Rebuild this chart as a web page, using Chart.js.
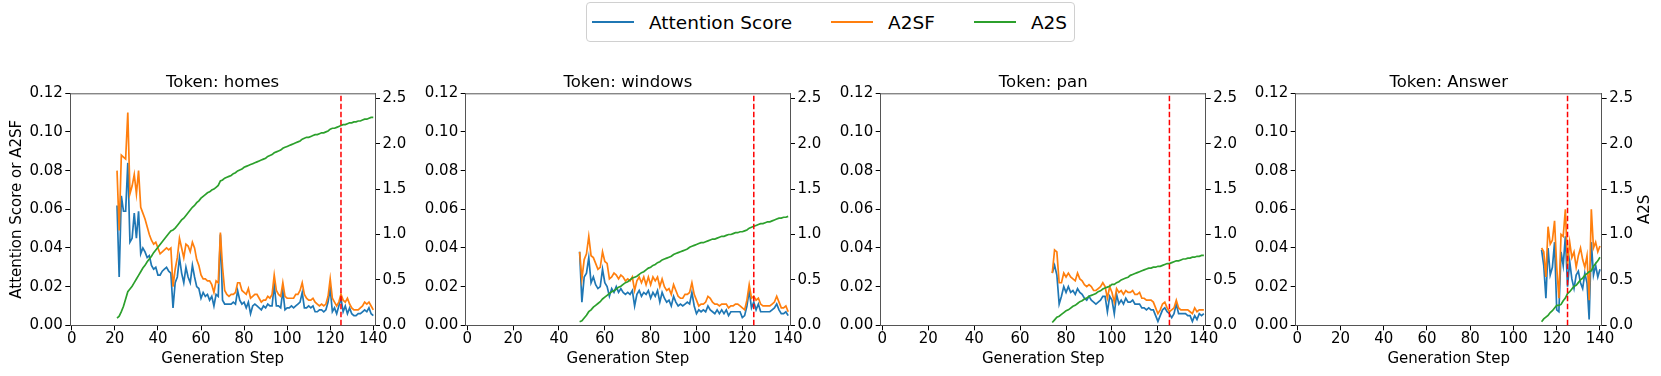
<!DOCTYPE html>
<html>
<head>
<meta charset="utf-8">
<script src="https://cdn.jsdelivr.net/npm/chart.js@4.4.0/dist/chart.umd.min.js"></script>
<style>
  body { margin: 0; background: #fff; width: 1661px; height: 376px; overflow: hidden; position: relative; font-family: "DejaVu Sans", sans-serif; }
  canvas { position: absolute; top: 0; }
  #legend { position: absolute; left: 586px; top: 2px; width: 489px; height: 40px; box-sizing: border-box;
    border: 1px solid #d0d0d0; border-radius: 4px; display: flex; align-items: center; padding-left: 5px;
    font-size: 18.5px; color: #000; z-index: 2; background: #fff; white-space: nowrap; }
  .item { display: flex; align-items: center; margin-right: 39px; flex-shrink: 0; }
  .swatch { width: 42px; height: 2px; margin-right: 15px; flex-shrink: 0; }
</style>
</head>
<body>
<div id="legend"></div>
<canvas id="c0" width="420" height="376" style="left:0px"></canvas>
<canvas id="c1" width="415" height="376" style="left:420px"></canvas>
<canvas id="c2" width="415" height="376" style="left:835px"></canvas>
<canvas id="c3" width="411" height="376" style="left:1250px"></canvas>
<script>
// series names and colours
var seriesNames = ['Attention Score', 'A2SF', 'A2S'];
var seriesColors = ['#1f77b4', '#ff7f0e', '#2ca02c'];

var xTicks = [0, 20, 40, 60, 80, 100, 120, 140];
var leftTicks = [0, 0.02, 0.04, 0.06, 0.08, 0.10, 0.12];
var rightTicks = [0, 0.5, 1.0, 1.5, 2.0, 2.5];
var markStep = 125;

// Token: homes (steps 21..140)
var homesStart = 21;
var homesAttn = [0.062,0.025,0.067,0.059,0.059,0.084,0.043,0.045,0.058,0.045,0.059,0.037,0.040,0.038,0.035,0.036,0.031,0.029,0.030,0.026,
  0.026,0.028,0.029,0.030,0.028,0.027,0.009,0.022,0.025,0.035,0.027,0.022,0.030,0.025,0.022,0.031,0.025,0.020,0.019,0.014,
  0.017,0.015,0.016,0.013,0.015,0.010,0.016,0.015,0.047,0.013,0.011,0.011,0.011,0.011,0.012,0.011,0.018,0.013,0.011,0.012,
  0.009,0.012,0.006,0.010,0.011,0.010,0.009,0.008,0.010,0.009,0.011,0.010,0.010,0.021,0.010,0.010,0.009,0.018,0.008,0.009,
  0.009,0.010,0.009,0.010,0.011,0.012,0.017,0.009,0.009,0.010,0.009,0.010,0.007,0.007,0.008,0.008,0.007,0.008,0.012,0.019,
  0.007,0.009,0.006,0.010,0.014,0.007,0.010,0.006,0.009,0.006,0.005,0.005,0.006,0.006,0.007,0.008,0.007,0.009,0.006,0.005];
var homesA2SF = [0.080,0.049,0.088,0.087,0.086,0.110,0.068,0.072,0.078,0.068,0.080,0.061,0.058,0.055,0.051,0.047,0.044,0.042,0.043,0.040,
  0.037,0.038,0.039,0.040,0.039,0.040,0.020,0.029,0.035,0.045,0.040,0.035,0.042,0.041,0.038,0.043,0.040,0.034,0.031,0.026,
  0.024,0.024,0.023,0.023,0.021,0.017,0.023,0.022,0.048,0.030,0.018,0.016,0.015,0.016,0.016,0.017,0.022,0.022,0.018,0.017,
  0.016,0.019,0.014,0.015,0.016,0.016,0.014,0.012,0.013,0.013,0.015,0.014,0.016,0.026,0.018,0.016,0.015,0.022,0.015,0.014,
  0.014,0.014,0.014,0.016,0.016,0.018,0.022,0.016,0.014,0.013,0.013,0.014,0.012,0.011,0.010,0.011,0.010,0.011,0.015,0.024,
  0.014,0.012,0.010,0.012,0.016,0.013,0.012,0.014,0.011,0.009,0.008,0.008,0.008,0.009,0.010,0.012,0.011,0.012,0.010,0.008];
var homesA2S = [0.08,0.10,0.15,0.21,0.29,0.37,0.40,0.43,0.47,0.51,0.55,0.59,0.63,0.66,0.70,0.73,0.76,0.80,0.83,0.86,
  0.89,0.92,0.95,0.98,1.01,1.04,1.05,1.07,1.10,1.13,1.16,1.18,1.21,1.24,1.27,1.30,1.32,1.35,1.37,1.40,
  1.42,1.44,1.46,1.47,1.49,1.50,1.52,1.54,1.59,1.60,1.62,1.63,1.64,1.65,1.67,1.68,1.70,1.71,1.72,1.74,
  1.75,1.76,1.77,1.78,1.79,1.80,1.81,1.82,1.83,1.84,1.86,1.87,1.88,1.90,1.91,1.92,1.93,1.95,1.96,1.97,
  1.98,1.99,2.00,2.01,2.02,2.03,2.05,2.06,2.07,2.07,2.08,2.09,2.10,2.10,2.11,2.12,2.12,2.13,2.14,2.16,
  2.17,2.17,2.18,2.19,2.20,2.21,2.21,2.22,2.23,2.23,2.24,2.24,2.25,2.25,2.26,2.27,2.27,2.28,2.29,2.29];

// Token: windows (steps 49..140)
var windowsStart = 49;
var windowsAttn = [0.038,0.012,0.025,0.027,0.035,0.022,0.025,0.021,0.019,0.020,0.029,0.022,0.020,0.015,0.019,0.017,0.020,0.017,0.019,0.017,
  0.016,0.017,0.016,0.018,0.010,0.016,0.018,0.015,0.017,0.016,0.018,0.014,0.017,0.015,0.018,0.012,0.017,0.014,0.012,0.013,
  0.010,0.015,0.012,0.010,0.011,0.010,0.011,0.012,0.011,0.017,0.010,0.006,0.008,0.007,0.008,0.007,0.010,0.008,0.007,0.006,
  0.008,0.006,0.008,0.006,0.008,0.005,0.007,0.007,0.007,0.007,0.007,0.004,0.005,0.010,0.018,0.009,0.012,0.008,0.011,0.007,
  0.007,0.007,0.007,0.007,0.008,0.009,0.011,0.008,0.006,0.006,0.007,0.005];
var windowsA2SF = [0.038,0.024,0.034,0.037,0.046,0.036,0.035,0.032,0.029,0.030,0.038,0.033,0.032,0.024,0.025,0.027,0.026,0.024,0.026,0.025,
  0.023,0.024,0.023,0.025,0.018,0.023,0.025,0.022,0.025,0.021,0.025,0.021,0.025,0.023,0.025,0.020,0.024,0.020,0.018,0.019,
  0.016,0.021,0.018,0.015,0.014,0.014,0.016,0.016,0.017,0.022,0.016,0.013,0.010,0.011,0.011,0.012,0.015,0.014,0.012,0.011,
  0.011,0.010,0.011,0.011,0.011,0.009,0.010,0.010,0.011,0.011,0.010,0.009,0.008,0.013,0.021,0.014,0.015,0.013,0.014,0.011,
  0.010,0.010,0.010,0.010,0.011,0.012,0.015,0.012,0.009,0.009,0.010,0.007];
var windowsA2S = [0.04,0.05,0.08,0.11,0.15,0.17,0.20,0.22,0.24,0.26,0.29,0.31,0.33,0.35,0.37,0.38,0.40,0.42,0.43,0.45,
  0.47,0.48,0.50,0.52,0.53,0.54,0.56,0.58,0.59,0.61,0.63,0.64,0.66,0.67,0.69,0.70,0.72,0.73,0.74,0.75,
  0.76,0.78,0.79,0.80,0.81,0.82,0.83,0.84,0.86,0.87,0.88,0.89,0.90,0.91,0.91,0.92,0.93,0.94,0.95,0.95,
  0.96,0.97,0.98,0.98,0.99,1.00,1.00,1.01,1.02,1.02,1.03,1.03,1.04,1.05,1.07,1.08,1.09,1.10,1.11,1.12,
  1.12,1.13,1.14,1.14,1.15,1.16,1.17,1.18,1.18,1.19,1.19,1.20];

// Token: pan (steps 74..140)
var panStart = 74;
var panAttn = [0.027,0.031,0.026,0.011,0.015,0.020,0.017,0.020,0.017,0.018,0.016,0.019,0.017,0.016,0.014,0.013,0.015,0.013,0.012,0.011,
  0.012,0.013,0.015,0.015,0.007,0.015,0.013,0.006,0.016,0.011,0.013,0.011,0.014,0.012,0.012,0.013,0.011,0.011,0.011,0.009,
  0.009,0.008,0.009,0.008,0.008,0.005,0.002,0.005,0.008,0.009,0.007,0.006,0.004,0.006,0.011,0.006,0.006,0.006,0.006,0.005,
  0.005,0.002,0.005,0.003,0.006,0.005,0.006];
var panA2SF = [0.027,0.039,0.038,0.022,0.022,0.027,0.025,0.027,0.025,0.024,0.023,0.027,0.024,0.023,0.021,0.020,0.021,0.020,0.018,0.018,
  0.019,0.020,0.022,0.020,0.014,0.020,0.017,0.012,0.019,0.017,0.018,0.016,0.018,0.017,0.017,0.018,0.016,0.016,0.017,0.014,
  0.014,0.013,0.013,0.013,0.012,0.009,0.006,0.008,0.011,0.012,0.009,0.007,0.008,0.009,0.013,0.009,0.008,0.008,0.008,0.008,
  0.007,0.006,0.009,0.007,0.008,0.008,0.008];
var panA2S = [0.03,0.06,0.09,0.10,0.12,0.14,0.16,0.17,0.19,0.21,0.22,0.24,0.26,0.27,0.29,0.30,0.32,0.33,0.34,0.35,
  0.37,0.38,0.40,0.41,0.42,0.43,0.45,0.45,0.47,0.48,0.50,0.51,0.52,0.53,0.55,0.56,0.57,0.58,0.59,0.60,
  0.61,0.62,0.63,0.63,0.64,0.64,0.65,0.65,0.66,0.67,0.68,0.68,0.69,0.70,0.71,0.71,0.72,0.73,0.73,0.74,
  0.74,0.75,0.75,0.76,0.76,0.77,0.77];

// Token: Answer (steps 113..140)
var answerStart = 113;
var answerAttn = [0.039,0.031,0.014,0.040,0.026,0.030,0.043,0.008,0.007,0.038,0.031,0.046,0.020,0.033,0.024,0.019,0.026,0.028,0.022,0.019,
  0.027,0.022,0.003,0.043,0.026,0.031,0.025,0.029];
var answerA2SF = [0.040,0.038,0.025,0.051,0.042,0.044,0.054,0.030,0.014,0.047,0.046,0.060,0.031,0.043,0.035,0.038,0.030,0.036,0.040,0.034,
  0.030,0.036,0.013,0.060,0.040,0.043,0.038,0.041];
var answerA2S = [0.04,0.07,0.09,0.11,0.14,0.16,0.19,0.22,0.22,0.23,0.27,0.30,0.35,0.37,0.40,0.43,0.44,0.47,0.50,0.52,
  0.55,0.57,0.59,0.60,0.65,0.68,0.71,0.75];

var spineColor = '#555555';
var tickFont = { family: 'DejaVu Sans', size: 15 };

function toPoints(start, values) {
  var pts = [];
  for (var i = 0; i < values.length; i++) {
    pts.push({ x: start + i, y: values[i] });
  }
  return pts;
}

// red dashed step marker, top spine and the upward right-hand title
var framePlugin = {
  id: 'frame',
  afterDatasetsDraw: function(chart) {
    var ctx = chart.ctx;
    var a = chart.chartArea;
    var x = chart.scales.x.getPixelForValue(markStep);
    ctx.save();
    ctx.strokeStyle = '#ff0000';
    ctx.lineWidth = 1.5;
    ctx.setLineDash([5.5, 2.5]);
    ctx.beginPath();
    ctx.moveTo(x, a.bottom);
    ctx.lineTo(x, a.top);
    ctx.stroke();
    ctx.setLineDash([]);
    ctx.strokeStyle = spineColor;
    ctx.lineWidth = 1;
    ctx.beginPath();
    ctx.moveTo(a.left, a.top + 0.5);
    ctx.lineTo(a.right, a.top + 0.5);
    ctx.stroke();
    ctx.restore();
  },
  afterDraw: function(chart) {
    var t = chart.options.plugins.frame;
    if (!t || !t.rightTitle) return;
    var ctx = chart.ctx;
    var a = chart.chartArea;
    ctx.save();
    ctx.translate(t.rightTitleX, (a.top + a.bottom) / 2);
    ctx.rotate(-Math.PI / 2);
    ctx.font = '15px "DejaVu Sans"';
    ctx.fillStyle = '#000';
    ctx.textAlign = 'center';
    ctx.textBaseline = 'middle';
    ctx.fillText(t.rightTitle, 0, 0);
    ctx.restore();
  }
};

function makeChart(canvasId, title, start, attn, a2sf, a2s, sizes, leftTitle, rightTitle) {
  var ctx = document.getElementById(canvasId).getContext('2d');
  return new Chart(ctx, {
    type: 'line',
    data: {
      datasets: [
        { label: seriesNames[2], data: toPoints(start, a2s), yAxisID: 'y1', borderColor: seriesColors[2], order: 0 },
        { label: seriesNames[1], data: toPoints(start, a2sf), yAxisID: 'y', borderColor: seriesColors[1], order: 1 },
        { label: seriesNames[0], data: toPoints(start, attn), yAxisID: 'y', borderColor: seriesColors[0], order: 2 }
      ]
    },
    options: {
      responsive: false,
      animation: false,
      devicePixelRatio: 1,
      parsing: false,
      layout: { padding: { top: 72.6, left: 0, right: 0, bottom: 0 } },
      elements: {
        point: { radius: 0 },
        line: { borderWidth: 1.7, tension: 0, fill: false }
      },
      plugins: {
        legend: { display: false },
        tooltip: { enabled: false },
        title: {
          display: true, text: title, fullSize: false, color: '#000',
          font: { family: 'DejaVu Sans', size: 16.5, weight: 'normal' },
          padding: { top: 0, bottom: 0.9 }
        },
        frame: { rightTitle: rightTitle, rightTitleX: sizes.rightTitleX }
      },
      scales: {
        x: {
          type: 'linear', min: -0.7, max: 140.8,
          afterBuildTicks: function(s) { s.ticks = xTicks.map(function(v) { return { value: v }; }); },
          afterFit: function(s) { s.height = 50.7; },
          grid: { display: true, drawOnChartArea: false, drawTicks: true, tickLength: 5, color: '#000' },
          border: { display: true, color: spineColor, width: 1 },
          ticks: { color: '#000', font: tickFont, padding: 0, maxRotation: 0, autoSkip: false },
          title: { display: true, text: 'Generation Step', color: '#000', font: tickFont, padding: { top: 0, bottom: 7.5 } }
        },
        y: {
          type: 'linear', position: 'left', min: 0, max: 0.12,
          afterBuildTicks: function(s) { s.ticks = leftTicks.map(function(v) { return { value: v }; }); },
          afterFit: function(s) { s.width = sizes.left; },
          grid: { display: true, drawOnChartArea: false, drawTicks: true, tickLength: 5, color: '#000' },
          border: { display: true, color: spineColor, width: 1 },
          ticks: { color: '#000', font: tickFont, padding: 2.5, callback: function(v) { return v.toFixed(2); } },
          title: { display: !!leftTitle, text: leftTitle || '', color: '#000', font: tickFont, padding: { top: 8.4, bottom: 0 } }
        },
        y1: {
          type: 'linear', position: 'right', min: 0, max: 2.555,
          afterBuildTicks: function(s) { s.ticks = rightTicks.map(function(v) { return { value: v }; }); },
          afterFit: function(s) { s.width = sizes.right; },
          grid: { display: true, drawOnChartArea: false, drawTicks: true, tickLength: 5, color: '#000' },
          border: { display: true, color: spineColor, width: 1 },
          ticks: { color: '#000', font: tickFont, padding: 2.5, callback: function(v) { return v.toFixed(1); } }
        }
      }
    },
    plugins: [framePlugin]
  });
}

// html legend shared by the four panels
var legendBox = document.getElementById('legend');
for (var i = 0; i < seriesNames.length; i++) {
  var item = document.createElement('div');
  item.className = 'item';
  var sw = document.createElement('span');
  sw.className = 'swatch';
  sw.style.background = seriesColors[i];
  var label = document.createElement('span');
  label.textContent = seriesNames[i];
  item.appendChild(sw);
  item.appendChild(label);
  legendBox.appendChild(item);
}

makeChart('c0', 'Token: homes', homesStart, homesAttn, homesA2SF, homesA2S, { left: 70.3, right: 45 }, 'Attention Score or A2SF', null);
makeChart('c1', 'Token: windows', windowsStart, windowsAttn, windowsA2SF, windowsA2S, { left: 45.7, right: 45 }, null, null);
makeChart('c2', 'Token: pan', panStart, panAttn, panA2SF, panA2S, { left: 45.7, right: 44.3 }, null, null);
makeChart('c3', 'Token: Answer', answerStart, answerAttn, answerA2SF, answerA2S, { left: 45.7, right: 59.3, rightTitleX: 395 }, null, 'A2S');
</script>
</body>
</html>
